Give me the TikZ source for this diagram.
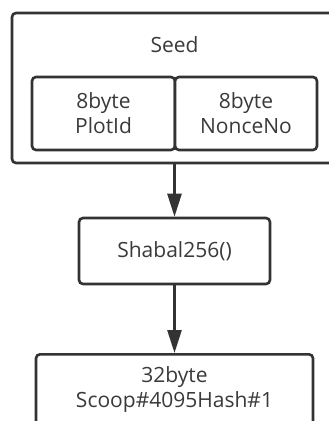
\documentclass[tikz,border=0pt]{standalone}
\usepackage{fontspec}
\setmainfont{Open Sans}
\usetikzlibrary{arrows.meta}
\definecolor{lc}{HTML}{333333}
\definecolor{tc}{HTML}{3A3A3A}
\tikzset{
  boxstyle/.style={draw=lc, line width=2.6pt, rounded corners=4pt, inner sep=0pt, fill=white},
  txt/.style={text=tc, font=\fontsize{21}{25}\selectfont, align=center, inner sep=0pt},
  conn/.style={draw=lc, line width=2.6pt, -{Triangle[length=23pt,width=14pt]}},
}
\begin{document}
\begin{tikzpicture}[x=1pt,y=-1pt]
\useasboundingbox (0,0) rectangle (329,421);
\clip (0,0) rectangle (329,421);
\fill[white] (0,0) rectangle (329,421);
% outer seed box
\node[boxstyle, minimum width=333pt, minimum height=150pt] (seed) at (178.5,88) {};
\node[txt] (seedlabel) at (174.5,45) {Seed};
\node[boxstyle, txt, minimum width=143pt, minimum height=73pt] (plot) at (103.5,113.5) {8byte\\PlotId};
\node[boxstyle, txt, minimum width=142pt, minimum height=73pt] (nonce) at (246,113.5) {8byte\\NonceNo};
\node[boxstyle, txt, minimum width=191pt, minimum height=66pt] (shabal) at (174.5,251) {Shabal256()};
\node[boxstyle, minimum width=277pt, minimum height=100pt, anchor=north] (scoop) at (174.5,353) {};
\node[txt] (scooptext) at (174.5,390) {32byte\\Scoop\#4095Hash\#1};
\draw[conn] (shabal.north |- seed.south) -- (shabal.north);
\draw[conn] (shabal.south) -- (scoop.north);
\end{tikzpicture}
\end{document}
